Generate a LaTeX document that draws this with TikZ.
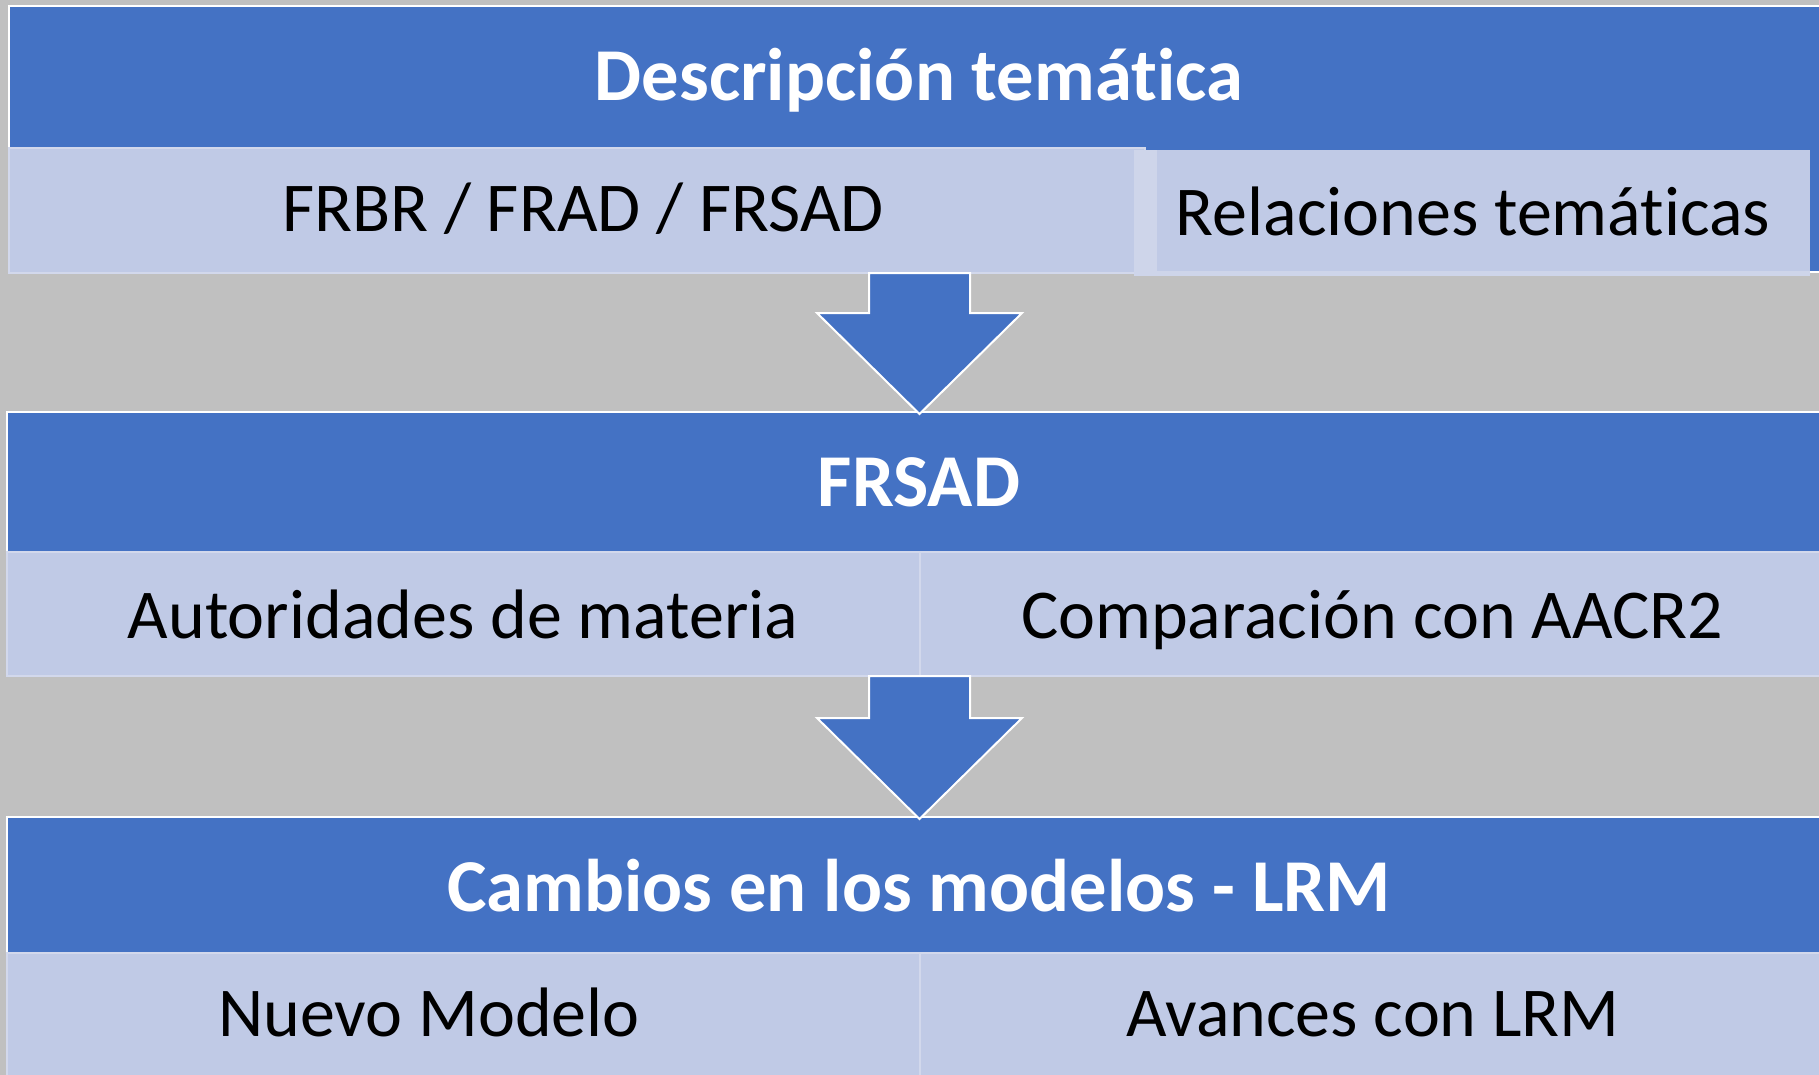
\documentclass[tikz,border=0pt]{standalone}
\usepackage{fontspec}
\setmainfont{Carlito}[Ligatures={NoCommon},RawFeature={-calt}]
\definecolor{bgray}{RGB}{192,192,192}
\definecolor{hblue}{RGB}{68,114,196}
\definecolor{lcell}{RGB}{192,202,230}
\definecolor{lstrip}{RGB}{206,213,234}
\definecolor{lline}{RGB}{210,216,236}
\tikzset{
  header/.style={fill=hblue,draw=white,line width=1pt},
  cell/.style={fill=lcell,draw=lline,line width=0.6pt},
  htext/.style={anchor=base,text=white,font=\fontsize{37.3}{44}\selectfont\bfseries,inner sep=0pt},
  ctext/.style={anchor=base,text=black,font=\fontsize{35}{42}\selectfont,inner sep=0pt},
  blockarrow/.style={fill=hblue,draw=white,line width=1pt,line join=miter}
}
\begin{document}
\begin{tikzpicture}[x=0.5pt,y=-0.5pt]
\useasboundingbox (0,0) rectangle (1819,1075);
\fill[bgray] (0,0) rectangle (1819,1075);
% top block
\draw[header] (9,6) rectangle (1840,272);
\draw[cell] (9,148) rectangle (1145,273);
\fill[lstrip] (1134,150) rectangle (1810,276);
\fill[lcell] (1157,150) rectangle (1810,271);
\node[htext] (t1) at (919,101) {Descripción temática};
\node[ctext] (c11) at (583,232) {FRBR / FRAD / FRSAD};
\node[ctext] (c12) at (1473,235) {Relaciones temáticas};
% middle block
\draw[header] (7,412) rectangle (1840,552);
\draw[cell] (7,552) rectangle (920,676);
\draw[cell] (920,552) rectangle (1840,676);
\node[htext] (t2) at (919,506) {FRSAD};
\node[ctext] (c21) at (463,638) {Autoridades de materia};
\node[ctext] (c22) at (1372,638) {Comparación con AACR2};
% bottom block
\draw[header] (7,817) rectangle (1840,953);
\draw[cell] (7,953) rectangle (920,1090);
\draw[cell] (920,953) rectangle (1840,1090);
\node[htext] (t3) at (919,911) {Cambios en los modelos - LRM};
\node[ctext] (c31) at (429,1036) {Nuevo Modelo};
\node[ctext] (c32) at (1373,1036) {Avances con LRM};
% arrows
\draw[blockarrow] (869,273) -- (970,273) -- (970,313) -- (1022,313) -- (919.5,414) -- (817,313) -- (869,313) -- cycle;
\draw[blockarrow] (869,676) -- (970,676) -- (970,718) -- (1022,718) -- (919.5,819) -- (817,718) -- (869,718) -- cycle;
\end{tikzpicture}
\end{document}
